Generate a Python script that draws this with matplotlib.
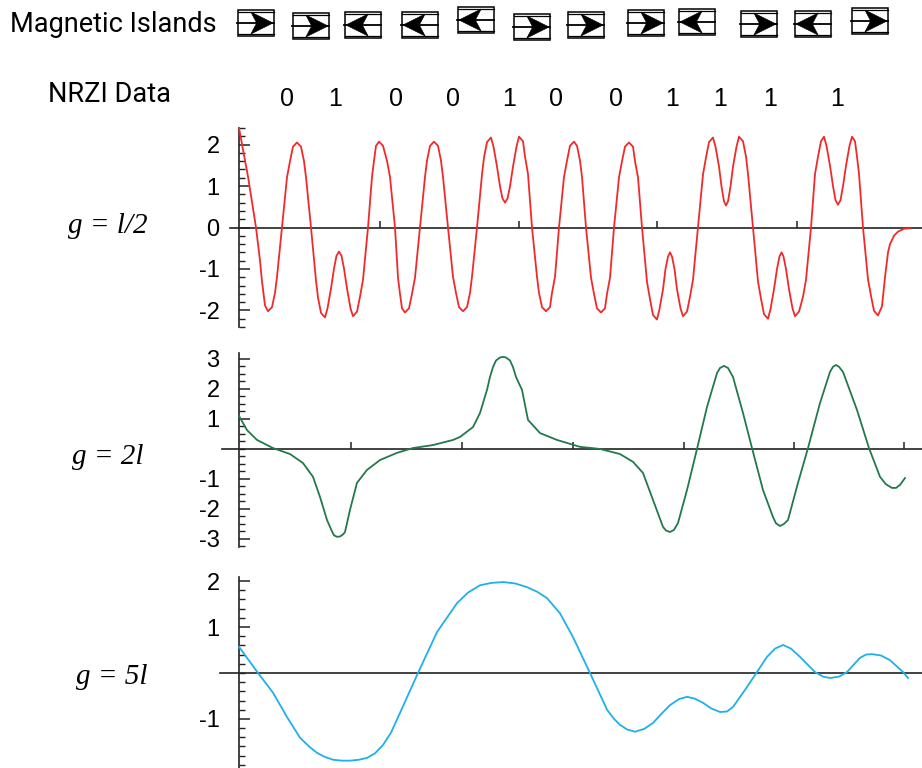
import matplotlib
matplotlib.use("Agg")
import matplotlib.pyplot as plt
from matplotlib.patches import Rectangle, Polygon
from matplotlib.ticker import FixedLocator, MultipleLocator, NullLocator

plt.rcParams['axes.unicode_minus'] = False

# data
nrzi_bits = [0, 1, 0, 0, 1, 0, 0, 1, 1, 1, 1]
island_dirs = ['R', 'R', 'L', 'L', 'L', 'R', 'R', 'R', 'L', 'R', 'L', 'R']
panel_labels = ['g = l/2', 'g = 2l', 'g = 5l']

# g = l/2  (position along the track, signal)
red_x = [0, 9, 17,
         21, 23, 26, 29, 33, 36, 38, 43,
         48, 51, 54, 58, 62, 65, 67, 72,
         77, 79, 82, 86, 88.5, 92, 95, 97.5, 100, 102.5, 105, 108, 111.5, 114, 118, 121, 124, 129,
         133, 135, 137, 140, 144, 148, 151, 156,
         159, 161, 163, 166, 170, 173, 176, 181,
         186, 188, 191, 195, 199, 202, 204, 209,
         214, 217, 220, 224, 228, 231, 233, 238,
         243, 245, 248, 252, 254.5, 258, 261, 263.5, 266, 268.5, 271, 274, 277.5, 280, 284, 286, 289, 293,
         298, 300, 303, 307, 311, 313, 316, 320,
         325, 328, 331, 335, 338, 341, 343, 347,
         352, 355, 358, 362, 366, 368, 371, 375,
         380, 383, 386, 390, 394, 396, 399, 403,
         408, 411, 414, 418, 420.5, 424, 426.5, 429, 431, 433, 435.5, 438, 441.5, 444, 448, 451, 454, 459,
         464, 467, 470, 474, 476.5, 480, 482.5, 485, 487, 489, 491.5, 494, 497.5, 500, 504, 507, 509, 514,
         519, 522, 525, 529, 531.5, 535, 538, 540.5, 542.5, 544.5, 547, 550, 553.5, 556, 560, 564, 567, 572,
         576, 579, 582, 585, 587.5, 591, 594, 596.5, 599, 601.5, 604, 607, 610.5, 613, 616, 618, 620, 624,
         629, 632, 635, 639, 643, 646, 649, 651, 655, 659, 665, 671]
red_y = [2.4, 1.23, 0,
         -0.8, -1.3, -1.88, -2.02, -1.92, -1.58, -1.19, 0,
         1.21, 1.6, 1.95, 2.05, 1.95, 1.6, 1.21, 0,
         -1.28, -1.69, -2.06, -2.17, -1.95, -1.47, -0.99, -0.68, -0.58, -0.68, -0.99, -1.47, -1.95, -2.14, -2.03, -1.67, -1.26, 0,
         1.22, 1.61, 1.97, 2.07, 1.97, 1.61, 1.22, 0,
         -1.21, -1.6, -1.95, -2.05, -1.95, -1.6, -1.21, 0,
         1.22, 1.61, 1.97, 2.07, 1.97, 1.61, 1.22, 0,
         -1.19, -1.58, -1.92, -2.02, -1.92, -1.58, -1.19, 0,
         1.28, 1.69, 2.06, 2.17, 1.95, 1.47, 0.99, 0.7, 0.6, 0.7, 0.99, 1.47, 1.95, 2.19, 2.08, 1.71, 1.29, 0,
         -1.19, -1.58, -1.92, -2.02, -1.92, -1.58, -1.19, 0,
         1.22, 1.61, 1.97, 2.07, 1.97, 1.61, 1.22, 0,
         -1.21, -1.6, -1.95, -2.05, -1.95, -1.6, -1.21, 0,
         1.21, 1.6, 1.95, 2.05, 1.95, 1.6, 1.21, 0,
         -1.31, -1.73, -2.11, -2.22, -1.97, -1.49, -1.0, -0.7, -0.6, -0.7, -1.0, -1.49, -1.95, -2.14, -2.03, -1.67, -1.26, 0,
         1.28, 1.69, 2.06, 2.17, 1.95, 1.47, 0.99, 0.63, 0.53, 0.63, 0.99, 1.47, 1.95, 2.19, 2.08, 1.71, 1.29, 0,
         -1.3, -1.72, -2.09, -2.2, -1.97, -1.49, -1.0, -0.7, -0.6, -0.7, -1.0, -1.49, -1.95, -2.14, -2.03, -1.67, -1.26, 0,
         1.29, 1.71, 2.08, 2.19, 1.97, 1.49, 1.0, 0.66, 0.55, 0.66, 1.0, 1.49, 1.97, 2.19, 2.08, 1.71, 1.29, 0,
         -1.25, -1.65, -2.01, -2.12, -1.9, -1.2, -0.6, -0.4, -0.2, -0.1, -0.03, -0.02]

# g = 2l
green_x = [0, 8, 18, 34, 51, 64, 74, 81, 88, 93, 95, 98, 101, 104, 106, 111, 118, 128, 141,
           158, 174, 194, 214, 221, 234, 241, 248, 251, 254, 257, 261, 264, 267, 271, 274, 277, 283, 289,
           301, 318, 341, 361, 381, 394, 404, 414, 424, 427, 431, 435, 439, 448, 458, 468,
           478, 481, 485, 489, 494, 504, 513, 524, 534, 537, 541, 545, 549, 559, 569, 581, 591, 594, 597,
           600, 604, 618, 630, 641, 647, 653, 657, 661, 666]
green_y = [1.1, 0.63, 0.3, 0.03, -0.17, -0.47, -0.93, -1.6, -2.37, -2.75, -2.88, -2.93, -2.92, -2.85, -2.77, -2.03, -1.13, -0.7, -0.37,
           -0.13, 0.03, 0.13, 0.3, 0.4, 0.73, 1.2, 1.97, 2.4, 2.73, 2.95, 3.05, 3.07, 3.05, 2.95, 2.73, 2.4, 1.97, 0.97,
           0.53, 0.3, 0.07, 0, -0.17, -0.43, -0.8, -1.7, -2.6, -2.72, -2.77, -2.7, -2.47, -1.37, 0, 1.4,
           2.53, 2.7, 2.77, 2.7, 2.4, 1.2, 0.03, -1.37, -2.27, -2.48, -2.57, -2.5, -2.37, -1.13, 0.03, 1.53, 2.57, 2.74, 2.8,
           2.74, 2.57, 1.3, 0.03, -0.93, -1.18, -1.3, -1.3, -1.2, -0.97]

# g = 5l
blue_x = [0, 19, 34, 48, 61, 70, 78, 86, 94, 103, 111, 120, 128, 136, 144, 152, 161, 179, 198, 218,
          229, 241, 252, 264, 276, 288, 298, 308, 321, 334, 351, 368, 375, 381, 388, 396, 405, 414,
          422, 431, 440, 448, 456, 464, 472, 481, 488, 494, 506, 518, 528, 536, 544, 552, 561, 576,
          584, 591, 600, 608, 621, 627, 633, 642, 651, 664, 669]
blue_y = [0.57, 0, -0.43, -0.96, -1.41, -1.6, -1.74, -1.83, -1.89, -1.91, -1.91, -1.89, -1.85, -1.75, -1.57, -1.3, -0.87, 0, 0.89, 1.52,
          1.75, 1.91, 1.96, 1.98, 1.95, 1.87, 1.77, 1.63, 1.3, 0.78, 0, -0.8, -1.0, -1.13, -1.23, -1.28, -1.22, -1.09,
          -0.9, -0.7, -0.57, -0.52, -0.56, -0.65, -0.77, -0.85, -0.84, -0.74, -0.37, 0.02, 0.35, 0.53, 0.61, 0.53, 0.35, 0.02,
          -0.08, -0.11, -0.08, 0.02, 0.33, 0.4, 0.41, 0.38, 0.28, 0.02, -0.11]

# layout (figure pixels)
W, H = 922, 768
bit_px = [287, 335, 396, 453, 509, 556, 616, 672, 720, 770, 837]
box_left = [238, 293, 345, 402, 458, 514, 568, 628, 679, 741, 795, 852]
box_top = [10, 13, 12, 12, 7, 14, 12, 10, 9, 11, 11, 8]
label_pos = [(108, 226), (108, 457), (112, 677)]

axis_col = '#222222'

fig = plt.figure(figsize=(W / 100, H / 100), dpi=100)


def panel(px_box, xs, ys, color, ylim, major, minor, xticks):
    left, right, top, bottom = px_box
    ax = fig.add_axes([left / W, 1 - bottom / H, (right - left) / W, (bottom - top) / H])
    ax.patch.set_visible(False)
    ax.plot(xs, ys, color=color, lw=1.3, clip_on=False, zorder=3)
    ax.set_xlim(-(239 - left), right - 239)
    ax.set_ylim(ylim)
    ax.spines['top'].set_visible(False)
    ax.spines['right'].set_visible(False)
    ax.spines['left'].set_position(('data', 0))
    ax.spines['bottom'].set_position(('data', 0))
    for s in ['left', 'bottom']:
        ax.spines[s].set_color(axis_col)
        ax.spines[s].set_linewidth(1.2)
    ax.yaxis.set_major_locator(FixedLocator(major))
    ax.yaxis.set_minor_locator(MultipleLocator(minor))
    ax.tick_params(axis='y', which='major', direction='in', length=8, width=1.1,
                   color=axis_col, pad=14, labelsize=17)
    ax.tick_params(axis='y', which='minor', direction='in', length=4.5, width=1.0, color=axis_col)
    for t in ax.get_yticklabels():
        t.set_fontfamily('Liberation Sans')
    ax.xaxis.set_major_locator(FixedLocator(xticks))
    ax.xaxis.set_minor_locator(NullLocator())
    ax.tick_params(axis='x', direction='in', length=5, width=1.1, color=axis_col, labelbottom=False)
    return ax


panel((230, 922, 128, 327), red_x, red_y, '#f02a2a', (-2.4, 2.4),
      [-2, -1, 0, 1, 2], 0.2, [141, 280, 418, 558])
panel((222, 922, 353, 547), green_x, green_y, '#23784c', (-3.27, 3.2),
      [-3, -2, -1, 1, 2, 3], 0.25, [112, 223, 334, 445, 555, 665])
panel((220, 922, 577, 768), blue_x, blue_y, '#1fb0ea', (-2.07, 2.09),
      [-1, 1, 2], 0.2, [])

# overlay for the header rows and the panel labels
ov = fig.add_axes([0, 0, 1, 1])
ov.set_xlim(0, W)
ov.set_ylim(H, 0)
ov.axis('off')
ov.patch.set_visible(False)

ov.text(10, 25, 'Magnetic Islands', fontsize=19.5, family='Roboto', ha='left', va='center')
ov.text(48, 95, 'NRZI Data', fontsize=19.5, family='Roboto', ha='left', va='center')
for b, x in zip(nrzi_bits, bit_px):
    ov.text(x, 99, str(b), fontsize=18, family='Liberation Sans', ha='center', va='center')

bw, bh = 36, 26
for d, left, top in zip(island_dirs, box_left, box_top):
    ov.add_patch(Rectangle((left, top), bw, bh, fill=False, lw=1.1, ec='k'))
    ov.plot([left, left + bw], [top + 1.8, top + 1.8], color='k', lw=0.9)
    ov.plot([left, left + bw], [top + bh - 1.8, top + bh - 1.8], color='k', lw=0.9)
    cy = top + bh / 2
    cx = left + bw / 2
    ov.plot([left - 1, left + bw], [cy, cy], color='k', lw=1.3)
    s = 1 if d == 'R' else -1
    pts = [(cx + s * 0.47 * bw, cy), (cx - s * 0.14 * bw, cy - 0.42 * bh),
           (cx + s * 0.02 * bw, cy), (cx - s * 0.14 * bw, cy + 0.42 * bh)]
    ov.add_patch(Polygon(pts, closed=True, fc='k', ec='k', lw=0.5))

for lab, (x, y) in zip(panel_labels, label_pos):
    ov.text(x, y, lab, fontsize=21, family='Liberation Serif', style='italic',
            ha='center', va='center')

fig.savefig('out.png', dpi=100)
